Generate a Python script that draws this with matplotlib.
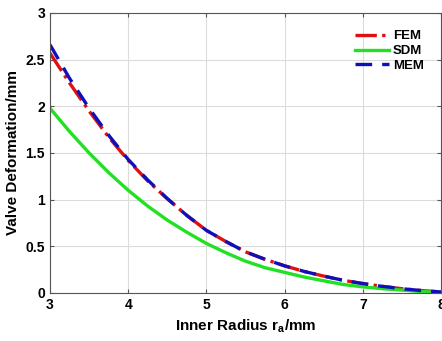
import matplotlib.pyplot as plt
import numpy as np

plt.rcParams['font.family'] = ['Liberation Sans', 'DejaVu Sans']
plt.rcParams['font.weight'] = 'bold'
plt.rcParams['mathtext.fontset'] = 'custom'
plt.rcParams['mathtext.rm'] = 'Liberation Sans:bold'
plt.rcParams['mathtext.bf'] = 'Liberation Sans:bold'

# Values
radius = [3, 3.25, 3.5, 3.75, 4, 4.25, 4.5, 4.75, 5, 5.25, 5.5, 5.75,
          6, 6.25, 6.5, 6.75, 7, 7.25, 7.5, 7.75, 8]
fem = [2.57, 2.25, 1.95, 1.67, 1.42, 1.20, 1.01, 0.83, 0.67, 0.55, 0.44, 0.36,
       0.29, 0.23, 0.18, 0.135, 0.10, 0.07, 0.045, 0.025, 0.01]
sdm = [1.98, 1.73, 1.50, 1.29, 1.10, 0.93, 0.78, 0.65, 0.53, 0.43, 0.34, 0.27,
       0.22, 0.17, 0.13, 0.09, 0.065, 0.045, 0.03, 0.015, 0.005]
mem = [2.66, 2.30, 1.98, 1.69, 1.43, 1.21, 1.01, 0.83, 0.67, 0.55, 0.44, 0.36,
       0.29, 0.23, 0.18, 0.135, 0.10, 0.07, 0.045, 0.025, 0.01]

fig = plt.figure(figsize=(4.42, 3.41), dpi=100)
ax = fig.add_axes([0.113, 0.141, 0.885, 0.821])

ax.plot(radius, fem, color='#dd1111', linestyle='-.', linewidth=2.4, label='FEM')
ax.plot(radius, sdm, color='#22e022', linestyle='-', linewidth=2.4, label='SDM')
ax.plot(radius, mem, color='#1010bb', linestyle=(0, (5, 3)), linewidth=2.4, label='MEM')

ax.set_xlim(3, 8)
ax.set_ylim(0, 3)
ax.set_xticks([3, 4, 5, 6, 7, 8])
ax.set_yticks([0, 0.5, 1, 1.5, 2, 2.5, 3])
ax.set_yticklabels(['0', '0.5', '1', '1.5', '2', '2.5', '3'])
ax.grid(True, color='#dcdcdc', linewidth=0.8)
ax.tick_params(direction='in', top=True, right=True, labelsize=10, length=3,
               color='#555555')
for s in ax.spines.values():
    s.set_color('#555555')
    s.set_linewidth(0.8)

ax.set_xlabel(r'Inner Radius r$_\mathrm{a}$/mm', fontsize=11, fontweight='bold', labelpad=4)
ax.set_ylabel('Valve Deformation/mm', fontsize=11, fontweight='bold', labelpad=4)

leg = ax.legend(loc='upper right', frameon=False, fontsize=9.5, handlelength=2.6,
                handletextpad=0.3, labelspacing=0.2, borderaxespad=0.9)

fig.savefig('out.png', dpi=100)
